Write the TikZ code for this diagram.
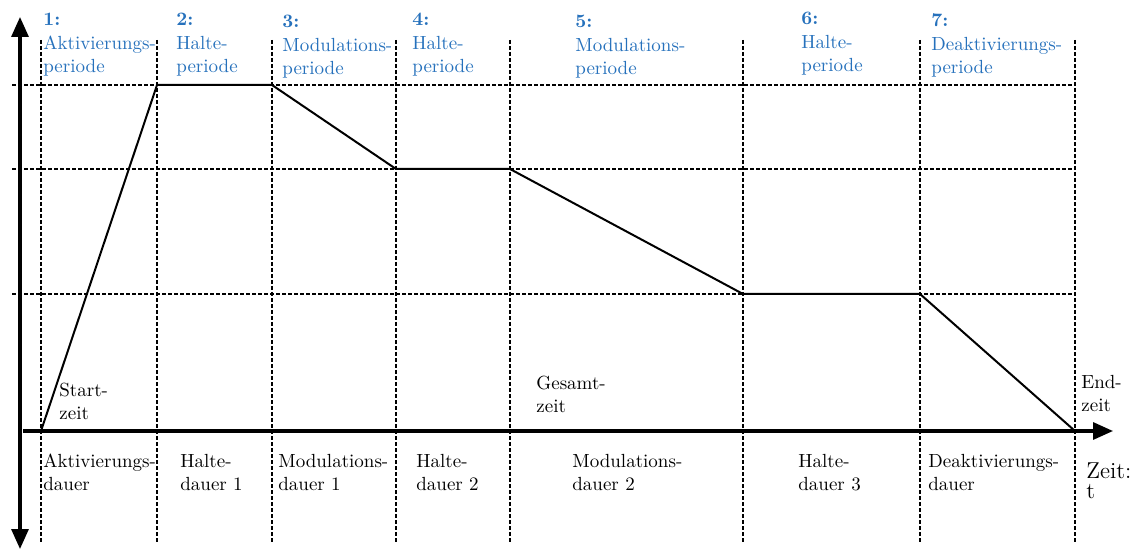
\documentclass[tikz,border=0pt]{standalone}
\usetikzlibrary{arrows.meta}
\definecolor{periodblue}{RGB}{38,113,188}
\tikzset{
  period/.style={anchor=base west, align=left, inner sep=0pt, text=periodblue,
    font=\fontsize{9.5}{11.75}\selectfont},
  duration/.style={anchor=base west, align=left, inner sep=0pt,
    font=\fontsize{9.5}{11.25}\selectfont},
  gridline/.style={line width=0.75pt, dash pattern=on 2pt off 1pt},
  axis/.style={line width=1.6pt, -{Triangle[width=8.5pt,length=10pt]}},
}
\begin{document}
\begin{tikzpicture}[x=0.5pt, y=-0.5pt]
    \useasboundingbox (0,0) rectangle (1143,549);

    % period borders and levels
    \foreach \x in {41,157,272,396,510,743,920,1075} {
        \draw [gridline] (\x,40) -- (\x,542);
    }
    \foreach \y in {85,169,294} {
        \draw [gridline] (12,\y) -- (1075,\y);
    }

    \draw [axis, {Triangle[width=8.5pt,length=10pt]}-{Triangle[width=8.5pt,length=10pt]}] (20,549) -- (20,17);
    \draw [axis] (23,431) -- (1113,431);

    % profile
    \coordinate (p0) at (41,431);
    \coordinate (p1) at (157,85);
    \coordinate (p2) at (272,85);
    \coordinate (p3) at (396,169);
    \coordinate (p4) at (510,169);
    \coordinate (p5) at (743,294);
    \coordinate (p6) at (920,294);
    \coordinate (p7) at (1075,431);
    \draw [line width=1pt, line join=miter] (p0) -- (p1) -- (p2) -- (p3) -- (p4) -- (p5) -- (p6) -- (p7);

    % labels sit on the baseline of their last line
    \node [period] (per1) at (43,73)  {\textbf{1:}\\Aktivierungs-\\periode};
    \node [period] (per2) at (176,73) {\textbf{2:}\\Halte-\\periode};
    \node [period] (per3) at (282,75) {\textbf{3:}\\Modulations-\\periode};
    \node [period] (per4) at (412,73) {\textbf{4:}\\Halte-\\periode};
    \node [period] (per5) at (575,75) {\textbf{5:}\\Modulations-\\periode};
    \node [period] (per6) at (801,72) {\textbf{6:}\\Halte-\\periode};
    \node [period] (per7) at (931,74) {\textbf{7:}\\Deaktivierungs-\\periode};

    \node [duration] (start) at (59,419)   {Start-\\zeit};
    \node [duration] (total) at (536,412)  {Gesamt-\\zeit};
    \node [duration] (end)   at (1081,411) {End-\\zeit};

    \node [duration] (dur1) at (43,490)  {Aktivierungs-\\dauer};
    \node [duration] (dur2) at (180,490) {Halte-\\dauer 1};
    \node [duration] (dur3) at (278,490) {Modulations-\\dauer 1};
    \node [duration] (dur4) at (416,490) {Halte-\\dauer 2};
    \node [duration] (dur5) at (572,490) {Modulations-\\dauer 2};
    \node [duration] (dur6) at (798,490) {Halte-\\dauer 3};
    \node [duration] (dur7) at (928,490) {Deaktivierungs-\\dauer};
    \node [duration, font=\fontsize{11.5}{10}\selectfont] (tlabel) at (1086,498) {Zeit:\\t};

\end{tikzpicture}
\end{document}
